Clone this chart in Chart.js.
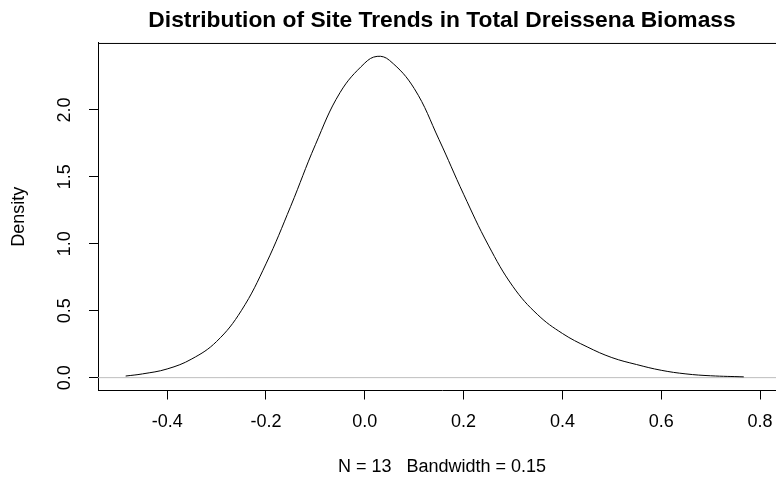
<!DOCTYPE html>
<html>
<head>
<meta charset="utf-8">
<script src="https://cdn.jsdelivr.net/npm/chart.js@4/dist/chart.umd.min.js"></script>
<style>
    html, body { margin: 0; padding: 0; background: #fff; overflow: hidden; }
    #wrap { width: 884px; height: 480px; }
</style>
</head>
<body>
<div id="wrap"><canvas id="densityChart" width="884" height="480"></canvas></div>
<script>
// density estimate (x = site trend, y = density)
const densX = [-0.484, -0.45, -0.40, -0.35, -0.30, -0.25, -0.20, -0.15, -0.10, -0.05,
    0.00, 0.025, 0.05, 0.10, 0.15, 0.20, 0.25, 0.30, 0.35, 0.40,
    0.45, 0.50, 0.55, 0.60, 0.65, 0.70, 0.767];
const densY = [0.012, 0.028, 0.065, 0.14, 0.27, 0.50, 0.85, 1.28, 1.74, 2.13,
    2.35, 2.40, 2.37, 2.16, 1.78, 1.37, 0.99, 0.68, 0.47, 0.33,
    0.23, 0.15, 0.098, 0.055, 0.028, 0.014, 0.006];

// axis ticks
const xTicks = [-0.4, -0.2, 0.0, 0.2, 0.4, 0.6, 0.8];
const yTicks = [0.0, 0.5, 1.0, 1.5, 2.0];
const xMin = -0.54, xMax = 0.8525;
const yMin = -0.096, yMax = 2.5;

const titleText = "Distribution of Site Trends in Total Dreissena Biomass";
const xLabel = "N = 13   Bandwidth = 0.15";
const yLabel = "Density";

Chart.defaults.font.family = "'Liberation Sans', Arial, sans-serif";
Chart.defaults.color = "#000";

// top edge of the plot box (left and bottom come from the axes)
const boxTop = {
    id: "boxTop",
    afterDraw(chart) {
        const { ctx, chartArea } = chart;
        ctx.save();
        ctx.strokeStyle = "#000";
        ctx.lineWidth = 1;
        ctx.beginPath();
        ctx.moveTo(chartArea.left, chartArea.top + 0.5);
        ctx.lineTo(chartArea.right, chartArea.top + 0.5);
        ctx.stroke();
        ctx.restore();
    },
};

const ctx = document.getElementById("densityChart").getContext("2d");
new Chart(ctx, {
    type: "line",
    data: {
        datasets: [
            {
                data: densX.map((x, i) => ({ x: x, y: densY[i] })),
                borderColor: "#000",
                borderWidth: 1,
                pointRadius: 0,
                tension: 0.4,
                fill: false,
            },
            {
                // zero line
                data: [{ x: xMin, y: 0 }, { x: xMax, y: 0 }],
                borderColor: "#bebebe",
                borderWidth: 1,
                pointRadius: 0,
                fill: false,
            },
        ],
    },
    options: {
        responsive: false,
        animation: false,
        devicePixelRatio: 1,
        layout: { padding: 0 },
        plugins: {
            legend: { display: false },
            tooltip: { enabled: false },
            title: {
                display: true,
                text: titleText,
                font: { size: 22.8, weight: "bold" },
                color: "#000",
                padding: { top: 7.3, bottom: 8.3 },
            },
        },
        scales: {
            x: {
                type: "linear",
                min: xMin,
                max: xMax,
                afterBuildTicks: (s) => { s.ticks = xTicks.map((v) => ({ value: v })); },
                afterFit: (s) => { s.height = 480 - 390.5; },
                ticks: {
                    autoSkip: false,
                    maxRotation: 0,
                    padding: 12,
                    font: { size: 18 },
                    callback: (v) => Number(v).toFixed(1),
                },
                grid: { drawOnChartArea: false, drawTicks: true, tickLength: 9, color: "#000", tickColor: "#000" },
                border: { display: true, color: "#000", width: 1 },
                title: { display: true, text: xLabel, font: { size: 18 }, padding: { top: 4, bottom: 2.2 } },
            },
            y: {
                type: "linear",
                position: "left",
                min: yMin,
                max: yMax,
                afterBuildTicks: (s) => { s.ticks = yTicks.map((v) => ({ value: v })); },
                afterFit: (s) => { s.width = 98; },
                ticks: {
                    minRotation: 90,
                    maxRotation: 90,
                    crossAlign: "center",
                    padding: 11.5,
                    font: { size: 18 },
                    callback: (v) => Number(v).toFixed(1),
                },
                grid: { drawOnChartArea: false, drawTicks: true, tickLength: 9, color: "#000", tickColor: "#000" },
                border: { display: true, color: "#000", width: 1 },
                title: { display: true, text: yLabel, font: { size: 18 }, padding: { top: 8.7, bottom: 0 } },
            },
            yRight: {
                // keeps the plot region symmetric so the title centres like the original
                type: "linear",
                position: "right",
                display: true,
                afterFit: (s) => { s.width = 98; },
                ticks: { display: false },
                grid: { display: false },
                border: { display: false },
            },
        },
    },
    plugins: [boxTop],
});
</script>
</body>
</html>
